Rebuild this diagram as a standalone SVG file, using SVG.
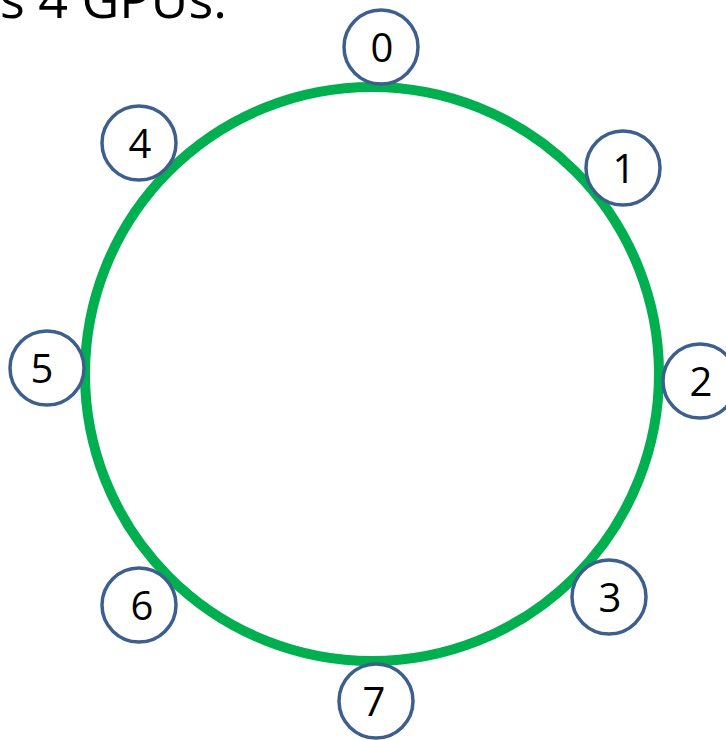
<svg xmlns="http://www.w3.org/2000/svg" width="726" height="740" viewBox="0 0 726 740">
<style>
.node circle{fill:#ffffff;stroke:#3D5F8E;stroke-width:3.5}
.node text{font-family:"Open Sans","Liberation Sans",sans-serif;font-size:40px;fill:#000;text-anchor:middle}
.ring{fill:none;stroke:#00B050;stroke-width:10}
.title{font-family:"Open Sans","Liberation Sans",sans-serif;font-size:52px;fill:#000}
</style>
<rect width="726" height="740" fill="#ffffff"/>
<text class="title" x="0" y="18">s 4 GPUs.</text>
<g id="connectors">
<circle class="ring" cx="372" cy="374" r="287"/>
</g>
<g id="node0" class="node"><circle cx="381" cy="47" r="37"/><text x="382" y="62">0</text></g>
<g id="node1" class="node"><circle cx="623" cy="168" r="37"/><text x="624" y="183">1</text></g>
<g id="node2" class="node"><circle cx="700" cy="381" r="37"/><text x="701" y="396">2</text></g>
<g id="node3" class="node"><circle cx="609" cy="597" r="37"/><text x="610" y="612">3</text></g>
<g id="node4" class="node"><circle cx="139" cy="143" r="37"/><text x="140" y="158">4</text></g>
<g id="node5" class="node"><circle cx="47" cy="368" r="37"/><text x="42" y="383">5</text></g>
<g id="node6" class="node"><circle cx="139" cy="605" r="37"/><text x="142" y="620">6</text></g>
<g id="node7" class="node"><circle cx="376" cy="701" r="37"/><text x="374" y="716">7</text></g>
</svg>
